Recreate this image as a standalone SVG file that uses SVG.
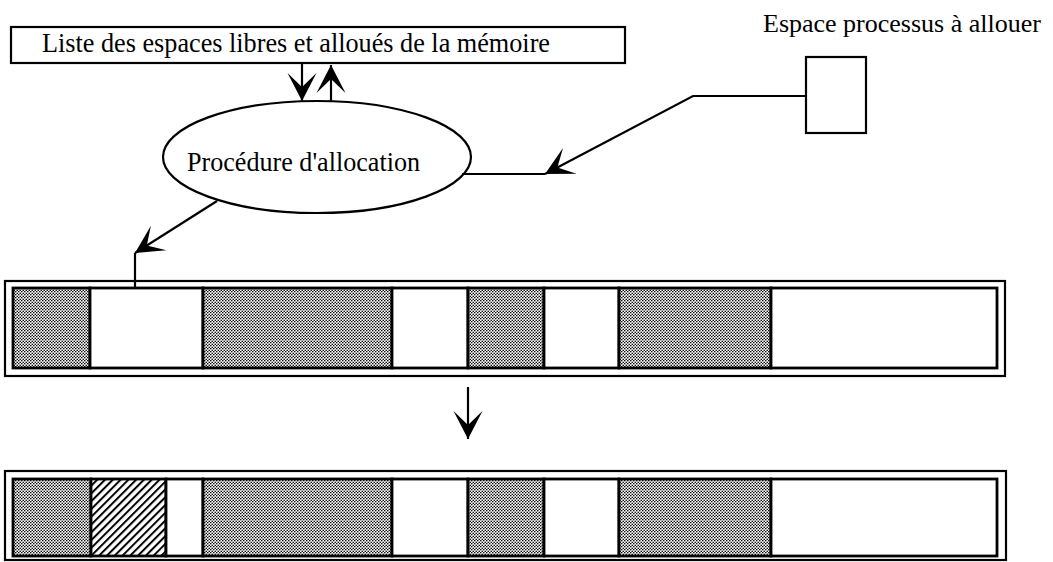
<svg xmlns="http://www.w3.org/2000/svg" width="1053" height="562" viewBox="0 0 1053 562">
<style>
text{font-family:"Liberation Serif","Times New Roman",serif;font-size:28px;fill:#000}
text.small{font-size:26px}
.ln{fill:none;stroke:#000;stroke-width:2.2}
.box{fill:#fff;stroke:#000;stroke-width:2.2}
.seg{stroke:#000;stroke-width:2.8}
.gray{fill:url(#dots)}
.hatch{fill:url(#hatch)}
.white{fill:#fff}
</style>
<defs>
<pattern id="dots" width="3" height="3" patternUnits="userSpaceOnUse">
<rect width="3" height="3" fill="#fff"/>
<circle cx="0.75" cy="0.75" r="0.8" fill="#000"/>
<circle cx="2.25" cy="2.25" r="0.8" fill="#000"/>
</pattern>
<pattern id="hatch" width="5.5" height="5.5" patternUnits="userSpaceOnUse" patternTransform="rotate(45)">
<rect width="5.5" height="5.5" fill="#fff"/>
<line x1="1" y1="0" x2="1" y2="5.5" stroke="#000" stroke-width="2"/>
</pattern>
<marker id="ah" markerWidth="32" markerHeight="32" viewBox="-30 -16 32 32" refX="0" refY="0" orient="auto" markerUnits="userSpaceOnUse">
<path d="M0,0 L-28,-14.5 L-14,0 L-28,14.5 Z" fill="#000"/>
</marker>
</defs>
<rect width="1053" height="562" fill="#fff"/>

<g id="liste">
<rect class="box" x="11" y="27" width="614" height="36"/>
<text x="42" y="52" textLength="508" lengthAdjust="spacingAndGlyphs">Liste des espaces libres et alloués de la mémoire</text>
</g>

<g id="espace">
<text class="small" x="763" y="32">Espace processus à allouer</text>
<rect class="box" x="806" y="57" width="60" height="76"/>
</g>

<g id="procedure">
<ellipse class="box" cx="317" cy="157" rx="154" ry="56"/>
<text x="187" y="171" textLength="233" lengthAdjust="spacingAndGlyphs">Procédure d'allocation</text>
</g>

<g id="memoire-avant">
<rect class="box" x="5" y="281" width="1000" height="95"/>
<rect class="seg gray" x="13" y="288" width="77" height="80"/>
<rect class="seg white" x="90" y="288" width="113" height="80"/>
<rect class="seg gray" x="203" y="288" width="189" height="80"/>
<rect class="seg white" x="392" y="288" width="76" height="80"/>
<rect class="seg gray" x="468" y="288" width="76" height="80"/>
<rect class="seg white" x="544" y="288" width="75" height="80"/>
<rect class="seg gray" x="619" y="288" width="152" height="80"/>
<rect class="seg white" x="771" y="288" width="226" height="80"/>
</g>

<g id="memoire-apres">
<rect class="box" x="5" y="471" width="1001" height="89"/>
<rect class="seg gray" x="13" y="479" width="78" height="77"/>
<rect class="seg hatch" x="91" y="479" width="75" height="77"/>
<rect class="seg white" x="166" y="479" width="37" height="77"/>
<rect class="seg gray" x="203" y="479" width="189" height="77"/>
<rect class="seg white" x="392" y="479" width="76" height="77"/>
<rect class="seg gray" x="468" y="479" width="76" height="77"/>
<rect class="seg white" x="544" y="479" width="75" height="77"/>
<rect class="seg gray" x="619" y="479" width="152" height="77"/>
<rect class="seg white" x="771" y="479" width="226" height="77"/>
</g>

<g id="connectors">
<path class="ln" d="M302,63 V101" marker-end="url(#ah)"/>
<path class="ln" d="M331,101 V65" marker-end="url(#ah)"/>
<path class="ln" d="M806,96 H693 L545,174" marker-end="url(#ah)"/>
<path class="ln" d="M545,174 H462"/>
<path class="ln" d="M217,201 L135,253" marker-end="url(#ah)"/>
<path class="ln" d="M135,253 V288"/>
<path class="ln" d="M468,387 V439" marker-end="url(#ah)"/>
</g>
</svg>
